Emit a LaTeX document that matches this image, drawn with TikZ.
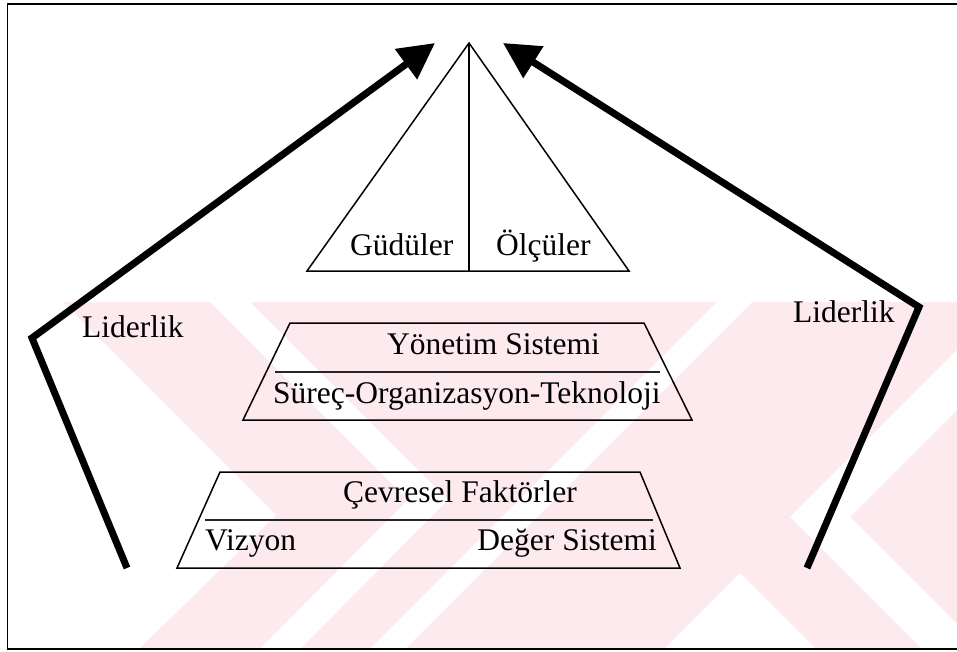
\documentclass[tikz,border=0pt]{standalone}
\usepackage{fontspec}
\setmainfont{Liberation Serif}
\usetikzlibrary{arrows.meta}
\definecolor{wmpink}{RGB}{252,234,238}
\tikzset{
  lbl/.style={inner sep=0pt, font=\fontsize{31.5}{36}\selectfont},
  thin edge/.style={line width=1.5pt, line join=miter},
  rule/.style={line width=2.2pt, black!85},
  leader/.style={line width=7pt, line join=miter,
    -{Triangle[length=36pt,width=36pt]}},
}
\begin{document}
\begin{tikzpicture}[x=1pt,y=-1pt]
\useasboundingbox (0,0) rectangle (957,652);
\fill[white] (0,0) rectangle (957,652);

% faint striped background in the lower part
\fill[wmpink] (8,302) rectangle (957,648);
\fill[white] (8,302) -- (63,302) -- (276,515) -- (140,648) -- (8,648) -- cycle;
\fill[white] (210,302) -- (250,302) -- (448,500) -- (301,648) -- (261,648) -- (408,500) -- cycle;
\fill[white] (717,302) -- (752,302) -- (406,648) -- (371,648) -- cycle;
\fill[white] (740,573) -- (815,648) -- (665,648) -- cycle;
\fill[white] (790,517) -- (957,350) -- (957,410) -- (850,517) -- (957,624) -- (957,648) -- (921,648) -- cycle;

% frame
\draw[line width=1.5pt] (957,4) -- (7.5,4) -- (7.5,649) -- (957,649);

% top triangle
\coordinate (apex) at (469,43);
\coordinate (tl) at (307,271);
\coordinate (tr) at (629,271);
\coordinate (tm) at (469,271);
\draw[thin edge] (tl) -- (apex) -- (tr) -- cycle;
\draw[thin edge] (apex) -- (tm);
\node[lbl, anchor=base west] (gud) at (350,255) {Güdüler};
\node[lbl, anchor=base west] (olc) at (496,255) {Ölçüler};

% management system trapezoid
\draw[thin edge] (290,323) -- (644,323) -- (692,420) -- (243,420) -- cycle;
\draw[rule] (275,372) -- (660,372);
\node[lbl, anchor=base west] (yon) at (387,354) {Yönetim Sistemi};
\node[lbl, anchor=base west] (sur) at (273,403) {Süreç-Organizasyon-Teknoloji};

% environmental factors trapezoid
\draw[thin edge] (220,472) -- (640,472) -- (680,568) -- (177,568) -- cycle;
\draw[rule] (205,520) -- (653,520);
\node[lbl, anchor=base west] (cev) at (343,502) {Çevresel Faktörler};
\node[lbl, anchor=base west] (viz) at (205,550) {Vizyon};
\node[lbl, anchor=base east] (deg) at (657,550) {Değer Sistemi};

% leadership arrows
\coordinate (lb) at (127,568);
\coordinate (lc) at (32,338);
\coordinate (lt) at (435,43);
\coordinate (rb) at (807,568);
\coordinate (rc) at (919,307);
\coordinate (rt) at (503,43);
\draw[leader] (lb) -- (lc) -- (lt);
\draw[leader] (rb) -- (rc) -- (rt);
\node[lbl, anchor=base west] (lidl) at (82,337) {Liderlik};
\node[lbl, anchor=base west] (lidr) at (793,322) {Liderlik};
\end{tikzpicture}
\end{document}
